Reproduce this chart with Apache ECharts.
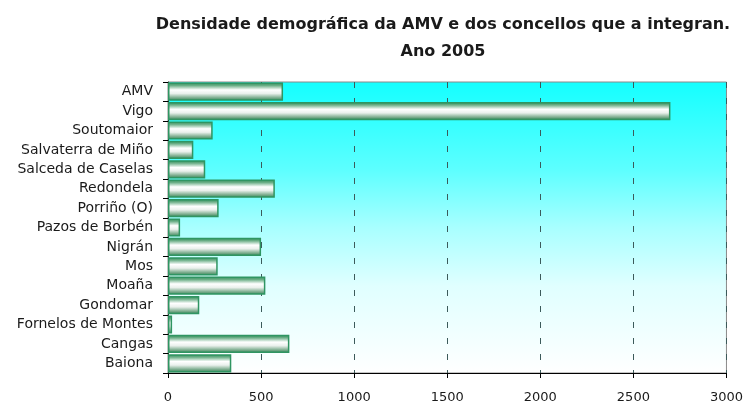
<!DOCTYPE html>
<html>
<head>
<meta charset="utf-8">
<script src="https://cdn.jsdelivr.net/npm/echarts@6/dist/echarts.min.js"></script>
<style>
html, body { margin: 0; padding: 0; background: #fff; }
#charts { width: 746px; height: 412px; }
</style>
</head>
<body>
<div id="charts"></div>
<script>
var concellos = ['AMV', 'Vigo', 'Soutomaior', 'Salvaterra de Miño', 'Salceda de Caselas',
	'Redondela', 'Porriño (O)', 'Pazos de Borbén', 'Nigrán', 'Mos', 'Moaña',
	'Gondomar', 'Fornelos de Montes', 'Cangas', 'Baiona'];
var densidade = [618, 2699, 240, 136, 200, 574, 272, 65, 500, 267, 523, 168, 22, 652, 340];
var xTicks = [0, 500, 1000, 1500, 2000, 2500, 3000];

var myChart = echarts.init(document.getElementById('charts'));

// degradado das barras: verde nos bordes, branco no medio
var barFill = new echarts.graphic.LinearGradient(0, 0, 0, 1, [
	{ offset: 0, color: '#2e8b57' },
	{ offset: 0.16, color: '#6aae86' },
	{ offset: 0.4, color: '#ffffff' },
	{ offset: 0.6, color: '#eaf0ec' },
	{ offset: 0.84, color: '#7aab8c' },
	{ offset: 1, color: '#2e8252' }
]);

var option = {
	animation: false,
	title: {
		text: 'Densidade demográfica da AMV e dos concellos que a integran.\nAno 2005',
		left: 438,
		top: 6,
		textAlign: 'center',
		textStyle: {
			fontFamily: 'DejaVu Sans',
			fontSize: 16,
			fontWeight: 'bold',
			color: '#1a1a1a',
			lineHeight: 27
		}
	},
	grid: {
		left: 168,
		right: 19,
		top: 82,
		bottom: 39,
		show: true,
		borderColor: '#8a8a8a',
		borderWidth: 1,
		backgroundColor: new echarts.graphic.LinearGradient(0, 0, 0, 1, [
			{ offset: 0, color: '#14ffff' },
			{ offset: 0.3, color: '#5cffff' },
			{ offset: 0.5, color: '#a8ffff' },
			{ offset: 0.7, color: '#e0ffff' },
			{ offset: 1, color: '#ffffff' }
		])
	},
	xAxis: {
		type: 'value',
		min: xTicks[0],
		max: xTicks[xTicks.length - 1],
		interval: 500,
		axisLine: { show: true, lineStyle: { color: '#000', width: 1 } },
		axisTick: { show: true, length: 5, lineStyle: { color: '#000' } },
		axisLabel: {
			margin: 18,
			fontFamily: 'DejaVu Sans',
			fontSize: 13,
			color: '#1a1a1a',
			formatter: function(v){ return '' + v; }
		},
		splitLine: {
			show: true,
			lineStyle: { color: '#3c5a5a', type: [6, 10], width: 1 }
		}
	},
	yAxis: {
		type: 'category',
		data: concellos,
		inverse: true,
		axisLine: { show: true, lineStyle: { color: '#1e3d2a', width: 1 } },
		axisTick: { show: true, length: 5, lineStyle: { color: '#000' } },
		axisLabel: {
			margin: 15,
			fontFamily: 'DejaVu Sans',
			fontSize: 14,
			color: '#1a1a1a'
		}
	},
	series: [{
		type: 'bar',
		data: densidade,
		barCategoryGap: '6%',
		itemStyle: {
			color: barFill,
			borderColor: '#2f9562',
			borderWidth: 1.5
		}
	}]
};

myChart.setOption(option);
</script>
</body>
</html>
